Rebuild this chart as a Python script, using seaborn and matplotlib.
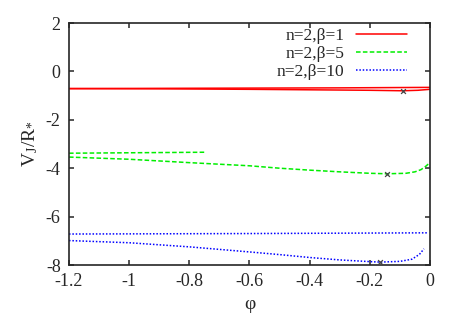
import matplotlib
matplotlib.use("Agg")
import matplotlib.pyplot as plt
import seaborn as sns
import pandas as pd

# branch data (phi, V_J/R_*)
labels = ["n=2,β=1", "n=2,β=5", "n=2,β=10"]
colors = ["#ff0000", "#00ee00", "#0000ff"]
styles = ["-", (0, (3, 1.5)), (0, (1, 1.2))]

red_up_phi = [-1.2, -0.9, -0.6, -0.3, 0.0]
red_up_v = [-0.71, -0.70, -0.69, -0.68, -0.66]
red_lo_phi = [-1.2, -0.9, -0.6, -0.4, -0.2, -0.09, -0.04, -0.01, 0.0]
red_lo_v = [-0.71, -0.72, -0.74, -0.76, -0.78, -0.80, -0.78, -0.75, -0.74]

green_up_phi = [-1.2, -0.75]
green_up_v = [-3.38, -3.34]
green_lo_phi = [-1.2, -1.0, -0.8, -0.6, -0.5, -0.4, -0.3, -0.2, -0.144,
                -0.08, -0.05, -0.03, -0.015, -0.005]
green_lo_v = [-3.54, -3.63, -3.77, -3.90, -4.00, -4.08, -4.15, -4.21, -4.23,
              -4.21, -4.15, -4.06, -3.93, -3.82]

blue_up_phi = [-1.2, -0.6, -0.005]
blue_up_v = [-6.72, -6.70, -6.67]
blue_lo_phi = [-1.2, -1.0, -0.8, -0.6, -0.5, -0.4, -0.3, -0.2, -0.165,
               -0.1, -0.06, -0.035, -0.02]
blue_lo_v = [-6.99, -7.08, -7.25, -7.46, -7.57, -7.69, -7.79, -7.86, -7.88,
             -7.85, -7.76, -7.56, -7.33]

# marked points
mark_phi = [-0.09, -0.144, -0.165]
mark_v = [-0.80, -4.23, -7.88]

branches = [
    [(red_up_phi, red_up_v), (red_lo_phi, red_lo_v)],
    [(green_up_phi, green_up_v), (green_lo_phi, green_lo_v)],
    [(blue_up_phi, blue_up_v), (blue_lo_phi, blue_lo_v)],
]

sns.set_style("ticks")
plt.rcParams["font.family"] = ["Liberation Serif", "DejaVu Serif"]
plt.rcParams["mathtext.fontset"] = "custom"
plt.rcParams["mathtext.rm"] = "Liberation Serif"
plt.rcParams["mathtext.it"] = "Liberation Serif:italic"

fig = plt.figure(figsize=(4.64, 3.25), dpi=100)
ax = fig.add_axes([0.1487, 0.1846, 0.778, 0.7446])

for lab, col, ls, brs in zip(labels, colors, styles, branches):
    for i, (p, v) in enumerate(brs):
        df = pd.DataFrame({"phi": p, "V": v})
        sns.lineplot(data=df, x="phi", y="V", sort=False, estimator=None,
                     color=col, linestyle=ls, linewidth=1.1,
                     label=lab if i == 0 else None, ax=ax)

sns.scatterplot(x=mark_phi, y=mark_v, marker="x", s=12, color="#444444",
                linewidth=0.9, ax=ax, legend=False, zorder=5)

ax.set_xlim(-1.2, 0)
ax.set_ylim(-8, 2)
ax.set_xticks([-1.2, -1.0, -0.8, -0.6, -0.4, -0.2, 0.0])
ax.set_xticklabels(["-1.2", "-1", "-0.8", "-0.6", "-0.4", "-0.2", "0"])
ax.set_yticks([-8, -6, -4, -2, 0, 2])
ax.set_yticklabels(["-8", "-6", "-4", "-2", "0", "2"])
ax.tick_params(direction="in", top=True, right=True, length=3.5, width=1.1,
               labelsize=13, pad=6)
for s in ax.spines.values():
    s.set_linewidth(1.2)
ax.set_xlabel("φ", fontsize=14, labelpad=4)
ax.set_ylabel(r"V$_\mathrm{J}$/R$_{\mathrm{*}}$", fontsize=14, labelpad=4)

leg = ax.legend(loc="upper right", bbox_to_anchor=(0.95, 1.0), frameon=False,
                markerfirst=False, fontsize=12.5, handlelength=2.9,
                handletextpad=0.7, labelspacing=0.1, borderaxespad=0.0,
                borderpad=0.3)

fig.savefig("out.png", dpi=100)
